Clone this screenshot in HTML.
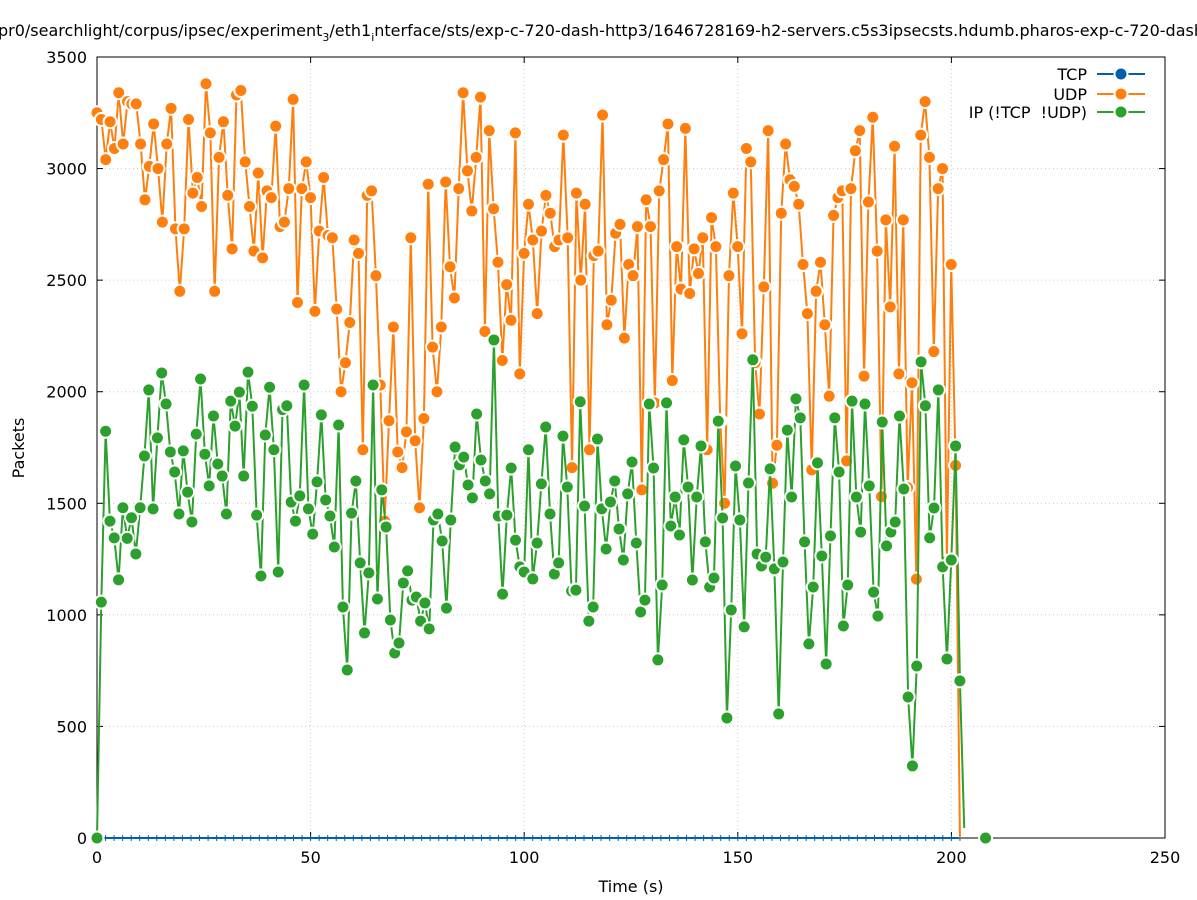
<!DOCTYPE html>
<html><head><meta charset="utf-8"><style>
body{margin:0;background:#fff;overflow:hidden}
svg{display:block;font-family:"DejaVu Sans","Liberation Sans",sans-serif}
text{white-space:pre}
</style></head><body>
<svg id="c" width="1197" height="900">
<text x="-2" y="36" font-size="16" fill="#000">pr0/searchlight/corpus/ipsec/experiment<tspan font-size="11" dy="5">3</tspan><tspan dy="-5">/eth1</tspan><tspan font-size="11" dy="5">i</tspan><tspan dy="-5">nterface/sts/exp-c-720-dash-http3/1646728169-h2-servers.c5s3ipsecsts.hdumb.pharos-exp-c-720-dash-http3</tspan></text>
<g id="grid"></g><g id="axes"></g><g id="series"></g><g id="legend"></g>
<text x="631" y="892" font-size="16" text-anchor="middle">Time (s)</text>
<text transform="translate(24,448) rotate(-90)" font-size="16" text-anchor="middle">Packets</text>
</svg>
<script>
const xTicks=[0,50,100,150,200,250];
const yTicks=[0,500,1000,1500,2000,2500,3000,3500];
const udpValues=[3250,3220,3040,3210,3090,3340,3110,3300,3290,3290,3110,2860,3010,3200,3000,2760,3110,3270,2730,2450,2730,3220,2890,2960,2830,3380,3160,2450,3050,3210,2880,2640,3330,3350,3030,2830,2630,2980,2600,2900,2870,3190,2740,2760,2910,3310,2400,2910,3030,2870,2360,2720,2960,2700,2690,2370,2000,2130,2310,2680,2620,1740,2880,2900,2520,2030,1420,1870,2290,1730,1660,1820,2690,1780,1480,1880,2930,2200,2000,2290,2940,2560,2420,2910,3340,2990,2810,3050,3320,2270,3170,2820,2580,2140,2480,2320,3160,2080,2620,2840,2680,2350,2720,2880,2800,2650,2680,3150,2690,1660,2890,2500,2840,1740,2610,2630,3240,2300,2410,2710,2750,2240,2570,2520,2740,1560,2860,2740,1950,2900,3040,3200,2050,2650,2460,3180,2440,2640,2530,2690,1740,2780,2650,1870,1500,2520,2890,2650,2260,3090,3030,2130,1900,2470,3170,1590,1760,2800,3110,2950,2920,2840,2570,2350,1650,2450,2580,2300,1980,2790,2870,2900,1690,2910,3080,3170,2070,2850,3230,2630,1530,2770,2380,3100,2080,2770,1570,2040,1160,3150,3300,3050,2180,2910,3000,1240,2570,1670,0];
const ipValues=[0,1057,1823,1420,1345,1157,1480,1343,1435,1273,1480,1712,2008,1475,1793,2084,1945,1730,1640,1452,1735,1550,1416,1810,2057,1720,1578,1891,1676,1622,1452,1958,1846,1998,1622,2088,1935,1447,1174,1806,2020,1740,1192,1920,1937,1505,1420,1533,2030,1475,1362,1596,1896,1515,1443,1304,1851,1035,753,1456,1600,1233,919,1188,2030,1071,1560,1394,977,829,874,1143,1197,1066,1080,972,1053,937,1425,1452,1331,1030,1425,1752,1672,1707,1582,1524,1900,1694,1600,1542,2232,1443,1093,1447,1658,1335,1215,1192,1740,1161,1322,1587,1842,1452,1183,1233,1801,1573,1107,1111,1955,1488,972,1035,1788,1475,1295,1506,1600,1385,1246,1542,1685,1322,1013,1066,1945,1658,798,1134,1950,1398,1528,1358,1784,1573,1156,1528,1757,1327,1125,1165,1868,1434,538,1022,1667,1425,946,1591,2143,1273,1219,1259,1654,1206,556,1237,1828,1528,1968,1883,1327,870,1125,1681,1264,780,1354,1883,1640,950,1134,1958,1528,1371,1945,1578,1102,995,1864,1309,1371,1416,1891,1564,632,323,771,2134,1937,1345,1479,2008,1215,802,1246,1757,704,45];
const udpEnd=202, ipEnd=203;
const ipExtraT=[208], ipExtraV=[0];
const NS="http://www.w3.org/2000/svg";
const L=97,R=1165,T=57,B=838;
const xs=v=>L+(v-0)/(250)*(R-L);
const ys=v=>B-v/3500*(B-T);
function mk(tag,attrs,parent){const e=document.createElementNS(NS,tag);for(const k in attrs)e.setAttribute(k,attrs[k]);parent.appendChild(e);return e;}
const grid=document.getElementById('grid'),axes=document.getElementById('axes'),series=document.getElementById('series'),legend=document.getElementById('legend');
mk('rect',{x:L,y:T,width:R-L,height:B-T,fill:'none',stroke:'#000','stroke-width':1},axes);
xTicks.forEach(t=>{const x=xs(t);
 if(t>0&&t<250){const g=mk('line',{x1:x,x2:x,y1:T,y2:B,stroke:'#c8c8c8','stroke-dasharray':'1,3'},grid);
 
 }
 mk('line',{x1:x,x2:x,y1:B,y2:B-6,stroke:'#000'},axes);mk('line',{x1:x,x2:x,y1:T,y2:T+6,stroke:'#000'},axes);
 const tx=mk('text',{x:x,y:B+25,'font-size':16,'text-anchor':'middle'},axes);tx.textContent=t;
 
 });
yTicks.forEach(t=>{const y=ys(t);
 if(t>0&&t<3500){const g=mk('line',{x1:L,x2:R,y1:y,y2:y,stroke:'#c8c8c8','stroke-dasharray':'1,3'},grid);
 
 }
 mk('line',{x1:L,x2:L+6,y1:y,y2:y,stroke:'#000'},axes);mk('line',{x1:R,x2:R-6,y1:y,y2:y,stroke:'#000'},axes);
 const tx=mk('text',{x:L-10,y:y+6,'font-size':16,'text-anchor':'end'},axes);tx.textContent=t;
 
 });
function drawSeries(vals,end,color,name,markLast){
 const n=vals.length,step=end/(n-1);
 const pts=vals.map((v,i)=>[xs(i*step),ys(v)]);
 const g=mk('g',{},series);
 
 
 mk('polyline',{points:pts.map(p=>p.join(',')).join(' '),fill:'none',stroke:color,'stroke-width':2},g);
 pts.forEach((p,i)=>{if(i===n-1&&!markLast)return;
  const c=mk('circle',{cx:p[0],cy:p[1],r:6.5,fill:color,stroke:'#fff','stroke-width':2},g);
  
  });
}
const tcp=mk('g',{},series);


mk('line',{x1:xs(0),x2:xs(202),y1:ys(0),y2:ys(0),stroke:'#0060ad','stroke-width':2},tcp);
for(let i=0;i<=202;i+=2){mk('line',{x1:xs(i),x2:xs(i),y1:ys(0)-3,y2:ys(0)+3,stroke:'#0060ad','stroke-width':1},tcp);}
drawSeries(udpValues,udpEnd,'#ff7f0e','udp',false);
drawSeries(ipValues,ipEnd,'#2ca02c','ip',false);
ipExtraT.forEach((t,i)=>{const c=mk('circle',{cx:xs(t),cy:ys(ipExtraV[i]),r:6.5,fill:'#2ca02c',stroke:'#fff','stroke-width':2},series);
 
 });
[['TCP','#0060ad',74],['UDP','#ff7f0e',94],['IP (!TCP  !UDP)','#2ca02c',112]].forEach(([lab,col,y])=>{
 const g=mk('g',{},legend);
 
 
 const t=mk('text',{x:1087,y:y+6,'font-size':16,'text-anchor':'end'},g);t.textContent=lab;
 mk('line',{x1:1097,x2:1145,y1:y,y2:y,stroke:col,'stroke-width':2},g);
 mk('circle',{cx:1121,cy:y,r:6.5,fill:col,stroke:'#fff','stroke-width':2},g);});
</script>
</body></html>
